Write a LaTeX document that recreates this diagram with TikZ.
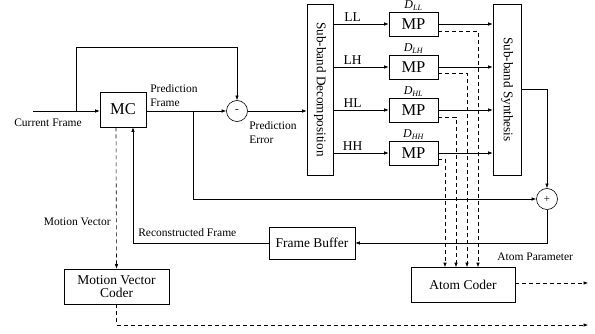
\documentclass[tikz,border=0pt]{standalone}
\usepackage{fontspec}
\setmainfont{Liberation Serif}
\usetikzlibrary{arrows.meta}
\tikzset{
  blk/.style={draw, inner sep=0pt, font=\fontsize{13.5}{15}\selectfont},
  mpbox/.style={draw, inner sep=0pt, minimum width=49pt, minimum height=24pt, font=\fontsize{16.5}{18}\selectfont},
  band/.style={draw, inner sep=0pt, minimum height=171pt},
  sumc/.style={draw, circle, inner sep=0pt, minimum size=21pt, font=\fontsize{11}{12}\selectfont},
  lbl/.style={inner sep=0pt, font=\fontsize{11.5}{14}\selectfont},
  dsh/.style={dash pattern=on 4pt off 3pt},
}
\begin{document}
\begin{tikzpicture}[x=1pt, y=-1pt, line width=0.6pt, >={Latex[length=4.5pt,width=3.5pt]}]
  \useasboundingbox (0,0) rectangle (595,334);
  % blocks
  \node[blk, minimum width=46pt, minimum height=35pt, font=\fontsize{16.5}{18}\selectfont] (mc) at (123,109.5) {MC};
  \node[sumc] (minus) at (237,111) {-};
  \node[sumc] (plus) at (547,199) {+};
  \node[band, minimum width=26pt] (sbd) at (320,89.5) {};
  \node[rotate=-90, font=\fontsize{13.2}{15}\selectfont] () at (sbd) {Sub-band Decomposition};
  \node[band, minimum width=28pt] (sbs) at (507,89.5) {};
  \node[rotate=-90, font=\fontsize{13.2}{15}\selectfont] () at (sbs) {Sub-band Synthesis};
  \node[mpbox] (mpLL) at (413.5,24) {MP};
  \node[mpbox] (mpLH) at (413.5,67) {MP};
  \node[mpbox] (mpHL) at (413.5,110) {MP};
  \node[mpbox] (mpHH) at (413.5,153) {MP};
  \node[blk, minimum width=86pt, minimum height=32pt] (fb) at (312,243) {Frame Buffer};
  \node[blk, minimum width=104pt, minimum height=35pt] (ac) at (463,285) {Atom Coder};
  \node[blk, minimum width=105pt, minimum height=35pt, align=center] (mvc) at (116.5,286.5) {Motion Vector\\[-2pt]Coder};
  % dictionary labels
  \node[anchor=south, inner sep=1pt, font=\fontsize{12}{13}\selectfont\itshape] () at (mpLL.north) {D\textsubscript{LL}};
  \node[anchor=south, inner sep=1pt, font=\fontsize{12}{13}\selectfont\itshape] () at (mpLH.north) {D\textsubscript{LH}};
  \node[anchor=south, inner sep=1pt, font=\fontsize{12}{13}\selectfont\itshape] () at (mpHL.north) {D\textsubscript{HL}};
  \node[anchor=south, inner sep=1pt, font=\fontsize{12}{13}\selectfont\itshape] () at (mpHH.north) {D\textsubscript{HH}};
  % points
  \coordinate (cin) at (33,111);
  \coordinate (br1) at (76,111);
  \coordinate (top) at (76,47);
  \coordinate (br2) at (193,111);
  \coordinate (out1) at (588,283);
  \coordinate (out2) at (588,325);
  % signal lines
  \draw[->] (cin) -- (mc.west |- cin);
  \draw[->] (br1) -- (top) -| (minus.north);
  \draw[->] (mc.east |- minus) -- (minus.west);
  \draw[->] (br2) |- (plus.west);
  \draw[->] (minus.east) -- (minus.east -| sbd.west);
  \draw[->] (sbd.east |- mpLL.west) -- node[lbl, above, pos=0.35, yshift=2pt, font=\fontsize{13.5}{15}\selectfont] {LL} (mpLL.west);
  \draw[->] (sbd.east |- mpLH.west) -- node[lbl, above, pos=0.35, yshift=2pt, font=\fontsize{13.5}{15}\selectfont] {LH} (mpLH.west);
  \draw[->] (sbd.east |- mpHL.west) -- node[lbl, above, pos=0.35, yshift=2pt, font=\fontsize{13.5}{15}\selectfont] {HL} (mpHL.west);
  \draw[->] (sbd.east |- mpHH.west) -- node[lbl, above, pos=0.35, yshift=2pt, font=\fontsize{13.5}{15}\selectfont] {HH} (mpHH.west);
  \draw[->] (mpLL.east) -- (mpLL.east -| sbs.west);
  \draw[->] (mpLH.east) -- (mpLH.east -| sbs.west);
  \draw[->] (mpHL.east) -- (mpHL.east -| sbs.west);
  \draw[->] (mpHH.east) -- (mpHH.east -| sbs.west);
  \draw[->] (sbs.east) -| (plus.north);
  \draw[->] (plus.south) |- (fb.east);
  \draw[->] (fb.west) -| ([xshift=10pt]mc.south);
  % atom parameters
  \draw[dsh, ->] ([yshift=-7pt]mpLL.east) -| ([xshift=15pt]ac.north);
  \draw[dsh, ->] ([yshift=-6pt]mpLH.east) -| ([xshift=4pt]ac.north);
  \draw[dsh, ->] ([yshift=-7pt]mpHL.east) -| ([xshift=-7pt]ac.north);
  \draw[dsh, ->] ([yshift=-6pt]mpHH.east) -| ([xshift=-18pt]ac.north);
  \draw[dsh, ->] (ac.east |- out1) -- (out1);
  % motion vectors
  \draw[dsh, ->] ([xshift=-7pt]mc.south) -- (mvc.north);
  \draw[dsh, ->] (mvc.south) |- (out2);
  % labels
  \node[lbl, anchor=west] () at (14,123) {Current Frame};
  \node[lbl, anchor=west, align=left] () at (150,96) {Prediction\\Frame};
  \node[lbl, anchor=west, align=left] () at (249,133) {Prediction\\Error};
  \node[lbl, anchor=east] () at (111,222) {Motion Vector};
  \node[lbl, anchor=west] () at (138,233) {Reconstructed Frame};
  \node[lbl, anchor=west] () at (497,257) {Atom Parameter};
\end{tikzpicture}
\end{document}
